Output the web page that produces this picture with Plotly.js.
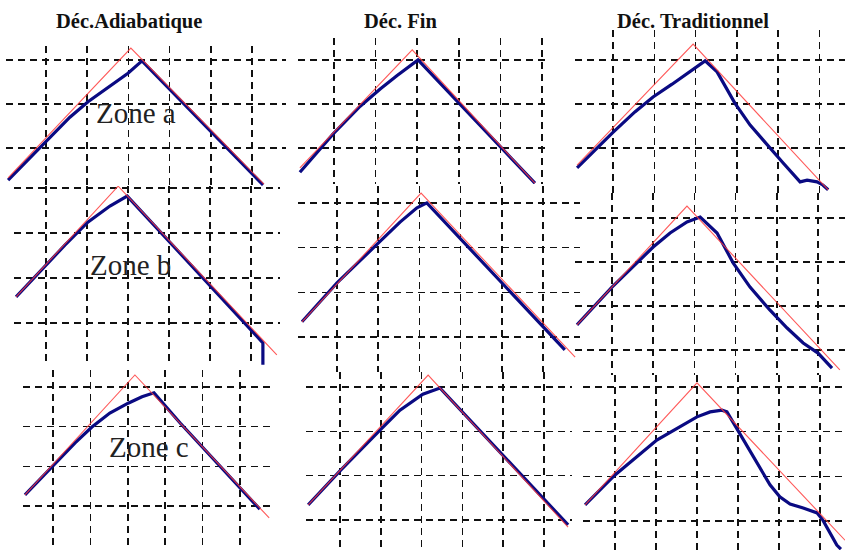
<!DOCTYPE html>
<html>
<head>
<meta charset="utf-8">
<script src="https://cdn.plot.ly/plotly-3.0.1.min.js"></script>
<style>html,body{margin:0;padding:0;background:#fff;}#chart{width:845px;height:550px;}</style>
</head>
<body>
<div id="chart"></div>
<script>
// Column titles and zone labels
const columnTitles = ["Déc.Adiabatique", "Déc. Fin", "Déc. Traditionnel"];
const zoneLabels = ["Zone a", "Zone b", "Zone c"];

// Values in grid units (x: grid columns, y: grid rows, bottom grid line = 0)
// Déc. Adiabatique
const adiabA_idealX = [-0.92, 2.06, 5.29];
const adiabA_idealY = [-0.68, 2.27, -0.82];
const adiabA_measX = [-0.92, 0, 0.58, 1.02, 1.55, 1.99, 2.33, 5.27];
const adiabA_measY = [-0.73, 0.16, 0.70, 1.05, 1.41, 1.70, 1.98, -0.84];

const adiabB_idealX = [-0.73, 1.76, 5.63];
const adiabB_idealY = [0.58, 3.04, -0.71];
const adiabB_measX = [-0.73, -0.07, 0.46, 1.02, 1.56, 1.98, 5.29, 5.29];
const adiabB_measY = [0.58, 1.22, 1.73, 2.24, 2.60, 2.82, -0.44, -0.93];

const adiabC_idealX = [-0.75, 2.19, 5.78];
const adiabC_idealY = [0.28, 3.30, -0.30];
const adiabC_measX = [-0.75, 0, 0.59, 1.04, 1.52, 2.01, 2.38, 2.70, 3.40, 5.53];
const adiabC_measY = [0.28, 1.01, 1.59, 1.99, 2.34, 2.59, 2.75, 2.85, 2.09, -0.08];

// Déc. Fin
const finA_idealX = [-0.82, 1.88, 4.83];
const finA_idealY = [-0.45, 2.23, -0.80];
const finA_measX = [-0.82, -0.02, 0.63, 1.11, 1.51, 1.83, 2.02, 4.83];
const finA_measY = [-0.55, 0.32, 0.95, 1.34, 1.64, 1.86, 2.00, -0.80];

const finB_idealX = [-0.85, 2.04, 5.78];
const finB_idealY = [0.34, 3.22, -0.45];
const finB_measX = [-0.85, 0, 1.0, 1.53, 1.94, 2.18, 5.53];
const finB_measY = [0.34, 1.21, 2.10, 2.57, 2.89, 3.00, -0.29];

const finC_idealX = [-0.78, 2.16, 5.59];
const finC_idealY = [0.34, 3.27, -0.16];
const finC_measX = [-0.78, 0, 0.98, 1.47, 2.03, 2.45, 5.59];
const finC_measY = [0.34, 1.11, 2.03, 2.48, 2.84, 2.98, -0.11];

// Déc. Traditionnel
const tradA_idealX = [-0.87, 1.94, 5.21];
const tradA_idealY = [-0.39, 2.36, -0.95];
const tradA_measX = [-0.87, -0.02, 0.53, 0.97, 1.43, 1.94, 2.23, 2.52, 2.95, 3.32, 3.73, 4.12, 4.53, 4.70, 4.94, 5.08, 5.21];
const tradA_measY = [-0.45, 0.34, 0.82, 1.16, 1.45, 1.80, 1.98, 1.73, 1.02, 0.52, 0.07, -0.34, -0.77, -0.73, -0.77, -0.84, -0.95];

const tradB_idealX = [-0.85, 1.82, 5.53];
const tradB_idealY = [0.57, 3.27, -0.45];
const tradB_measX = [-0.85, 0, 1.0, 1.41, 1.82, 2.14, 2.55, 2.94, 3.35, 3.83, 4.25, 4.64, 5.0, 5.34];
const tradB_measY = [0.57, 1.43, 2.34, 2.66, 2.91, 3.02, 2.66, 1.98, 1.43, 0.91, 0.50, 0.16, -0.07, -0.41];

const tradC_idealX = [-0.73, 2.0, 5.61];
const tradC_idealY = [0.36, 3.09, -0.43];
const tradC_measX = [-0.73, 0, 1.02, 2.0, 2.32, 2.61, 2.73, 2.88, 3.05, 3.37, 3.78, 4.02, 4.27, 4.59, 4.93, 5.07, 5.24, 5.41, 5.51];
const tradC_measY = [0.36, 1.03, 1.81, 2.33, 2.44, 2.48, 2.44, 2.21, 1.92, 1.43, 0.81, 0.54, 0.38, 0.29, 0.18, 0.02, -0.27, -0.54, -0.63];

const panelData = [
  [adiabA_idealX, adiabA_idealY, adiabA_measX, adiabA_measY],
  [adiabB_idealX, adiabB_idealY, adiabB_measX, adiabB_measY],
  [adiabC_idealX, adiabC_idealY, adiabC_measX, adiabC_measY],
  [finA_idealX, finA_idealY, finA_measX, finA_measY],
  [finB_idealX, finB_idealY, finB_measX, finB_measY],
  [finC_idealX, finC_idealY, finC_measX, finC_measY],
  [tradA_idealX, tradA_idealY, tradA_measX, tradA_measY],
  [tradB_idealX, tradB_idealY, tradB_measX, tradB_measY],
  [tradC_idealX, tradC_idealY, tradC_measX, tradC_measY]
];

// Layout geometry (pixels): first vertical grid line, column spacing, bottom grid line, row spacing, rows, box
const W = 845, H = 550;
const geom = [
  {gx0:46,  sx:41.2, gy0:148, sy:44,   ny:3, box:[6, 286, 46, 186]},
  {gx0:46,  sx:41,   gy0:323, sy:45,   ny:4, box:[14, 280, 186, 366]},
  {gx0:53,  sx:37.4, gy0:506, sy:39.7, ny:4, box:[23, 272, 370, 550]},
  {gx0:334, sx:41.6, gy0:148, sy:44,   ny:3, box:[298, 548, 38, 184]},
  {gx0:337, sx:41.2, gy0:337, sy:44.7, ny:4, box:[298, 580, 186, 372]},
  {gx0:340, sx:40.8, gy0:520, sy:44.3, ny:4, box:[306, 572, 372, 550]},
  {gx0:613, sx:41.3, gy0:148, sy:44,   ny:3, box:[575, 845, 30, 193]},
  {gx0:612, sx:41.2, gy0:350, sy:44,   ny:4, box:[575, 845, 193, 375]},
  {gx0:615, sx:41,   gy0:521, sy:44.7, ny:4, box:[583, 845, 375, 550]}
];

const traces = [];
const layout = {
  width: W, height: H,
  margin: {l:0, r:0, t:0, b:0},
  paper_bgcolor: '#ffffff',
  plot_bgcolor: 'rgba(0,0,0,0)',
  showlegend: false,
  annotations: []
};

geom.forEach((g, i) => {
  const k = i + 1;
  const xa = 'x' + (k > 1 ? k : '');
  const ya = 'y' + (k > 1 ? k : '');
  const d = panelData[i];
  traces.push({x: d[2], y: d[3], xaxis: xa, yaxis: ya, type: 'scatter', mode: 'lines',
    line: {color: '#0a0a82', width: 3.2}, hoverinfo: 'skip'});
  traces.push({x: d[0], y: d[1], xaxis: xa, yaxis: ya, type: 'scatter', mode: 'lines',
    line: {color: 'rgba(255,60,60,0.85)', width: 1.1}, hoverinfo: 'skip'});
  const [x0, x1, y0, y1] = g.box;
  const common = {showgrid: true, gridcolor: '#111111', gridwidth: 1.5, griddash: '7px,5px',
    zeroline: false, showline: false, showticklabels: false, ticks: '', tickmode: 'array', fixedrange: true};
  layout['xaxis' + (k > 1 ? k : '')] = Object.assign({}, common, {
    domain: [x0 / W, x1 / W],
    range: [(x0 - g.gx0) / g.sx, (x1 - g.gx0) / g.sx],
    tickvals: [0, 1, 2, 3, 4, 5],
    anchor: ya
  });
  const yv = [];
  for (let j = 0; j < g.ny; j++) yv.push(j);
  layout['yaxis' + (k > 1 ? k : '')] = Object.assign({}, common, {
    domain: [1 - y1 / H, 1 - y0 / H],
    range: [(g.gy0 - y1) / g.sy, (g.gy0 - y0) / g.sy],
    tickvals: yv,
    anchor: xa
  });
});

// Column titles
const titleX = [129, 400, 693];
columnTitles.forEach((t, i) => {
  layout.annotations.push({text: '<b>' + t + '</b>', xref: 'paper', yref: 'paper',
    x: titleX[i] / W, y: 1 - 21 / H, showarrow: false, xanchor: 'center', yanchor: 'middle',
    font: {family: 'Liberation Serif, Times New Roman, serif', size: 20.5, color: '#111'}});
});

// Zone labels placed in their panel coordinates
const zonePos = [[2.18, 0.80], [2.05, 1.29], [2.57, 1.49]];
zoneLabels.forEach((t, i) => {
  const k = i + 1;
  layout.annotations.push({text: t, xref: 'x' + (k > 1 ? k : ''), yref: 'y' + (k > 1 ? k : ''),
    x: zonePos[i][0], y: zonePos[i][1], showarrow: false, xanchor: 'center', yanchor: 'middle',
    font: {family: 'Liberation Serif, Times New Roman, serif', size: 29, color: '#222'}});
});

Plotly.newPlot('chart', traces, layout, {staticPlot: true, displayModeBar: false});
</script>
</body>
</html>
